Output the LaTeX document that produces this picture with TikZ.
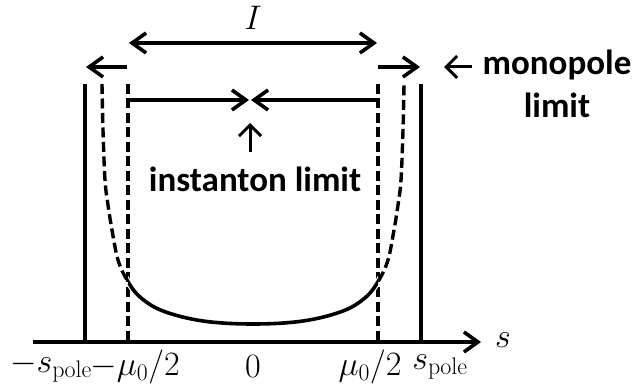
\documentclass[tikz,border=0pt]{standalone}
\usepackage{graphicx}
\usepackage{fontspec}
\newfontfamily\calib{Carlito}
\usetikzlibrary{arrows.meta}
\newcommand{\mlbl}[1]{\scalebox{1.37}{$#1$}}
\begin{document}
\begin{tikzpicture}[x=1pt,y=-1pt,
  solidline/.style={line width=3.6pt},
  dline/.style={line width=3.4pt, dash pattern=on 10pt off 4.5pt},
  barb/.style={-{Straight Barb[length=14pt,width=20pt]}},
  dbarb/.style={{Straight Barb[length=14pt,width=20pt]}-{Straight Barb[length=14pt,width=20pt]}},
  thinbarb/.style={line width=3pt,-{Straight Barb[length=11pt,width=22pt]}},
  mathlbl/.style={font=\fontsize{25}{30}\selectfont, inner sep=0pt},
  boldlbl/.style={font=\calib\bfseries\fontsize{35}{43}\selectfont, inner sep=0pt, align=center}
]
\useasboundingbox (0,0) rectangle (637,387);

% axis
\coordinate (ax0) at (33,342);
\coordinate (ax1) at (481,342);
\draw[solidline,barb] (ax0) -- (ax1);
\node[mathlbl] (slab) at (503,340) {\mlbl{s}};

% pole lines
\coordinate (plt) at (85,84);  \coordinate (plb) at (85,342);
\coordinate (prt) at (421,84); \coordinate (prb) at (421,342);
\draw[solidline] (plt) -- (plb);
\draw[solidline] (prt) -- (prb);

% dashed verticals
\coordinate (dlt) at (128,84);  \coordinate (dlb) at (128,342);
\coordinate (drt) at (378,84);  \coordinate (drb) at (378,342);
\draw[dline] (dlt) -- (dlb);
\draw[dline] (drt) -- (drb);

% curve
\def\curvepts{(102,84) (103,130) (105,180) (108,205) (112,230) (118,260) (127,280) (140,297) (163,311) (203,321) (253,324) (303,321) (343,311) (366,297) (379,280) (388,260) (394,230) (398,205) (401,180) (403,130) (404,84)}
\draw[dline] plot[smooth,tension=0.6] coordinates {\curvepts};
\begin{scope}
  \clip (128,200) rectangle (378,340);
  \draw[solidline, white, line width=6pt] plot[smooth,tension=0.6] coordinates {\curvepts};
  \draw[solidline] plot[smooth,tension=0.6] coordinates {\curvepts};
\end{scope}

% I arrow
\coordinate (Il) at (129,43); \coordinate (Ir) at (377,43);
\draw[solidline,dbarb] (Il) -- (Ir);
\node[mathlbl] (Ilab) at (253,18) {\mlbl{I}};

% monopole arrows
\coordinate (mls) at (127,67); \coordinate (mle) at (86,67);
\coordinate (mrs) at (378,67); \coordinate (mre) at (420,67);
\draw[solidline,barb] (mls) -- (mle);
\draw[solidline,barb] (mrs) -- (mre);

% instanton arrows
\coordinate (ils) at (128,100); \coordinate (ile) at (249,100);
\coordinate (irs) at (378,100); \coordinate (ire) at (251,100);
\draw[solidline,barb] (ils) -- (ile);
\draw[solidline,barb] (irs) -- (ire);

% up arrow and instanton label
\coordinate (ups) at (250,152); \coordinate (upe) at (250,123);
\draw[thinbarb] (ups) -- (upe);
\node[boldlbl, anchor=base] (inst) at (255,192) {instanton limit};

% monopole label
\node[boldlbl, anchor=base] (mono) at (557,75) {monopole};
\node[boldlbl, anchor=base] (monolim) at (557,118) {limit};
\coordinate (mas) at (472,67); \coordinate (mae) at (444,67);
\draw[thinbarb] (mas) -- (mae);

% tick labels
\node[mathlbl] (t1) at (51,367) {\mlbl{-s_{\rm pole}}};
\node[mathlbl] (t2) at (135,367) {\mlbl{-\mu_0/2}};
\node[mathlbl] (t3) at (253,367) {\mlbl{0}};
\node[mathlbl] (t4) at (370,367) {\mlbl{\mu_0/2}};
\node[mathlbl] (t5) at (440,367) {\mlbl{s_{\rm pole}}};
\end{tikzpicture}
\end{document}
